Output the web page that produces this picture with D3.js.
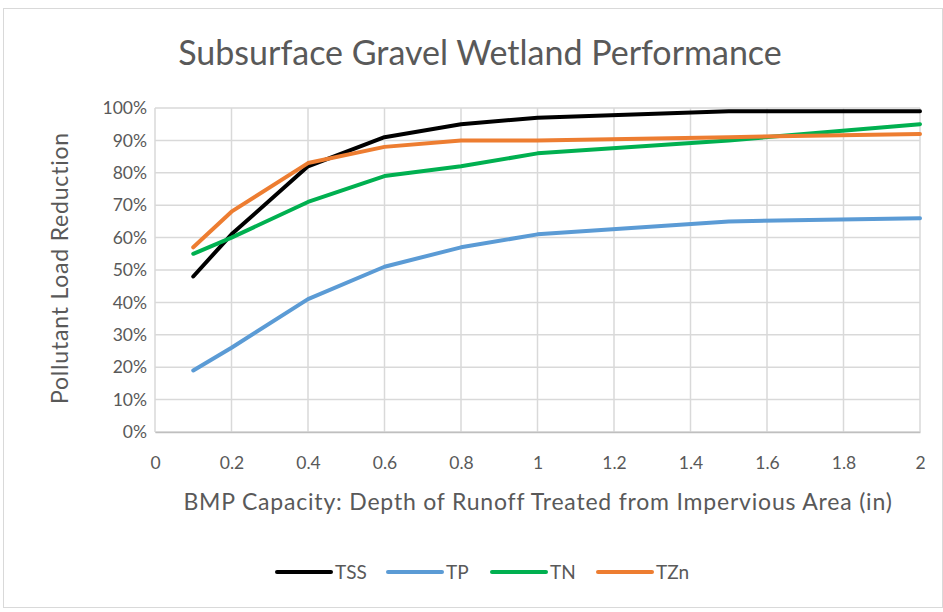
<!DOCTYPE html>
<html>
<head>
<meta charset="utf-8">
<script src="https://cdn.jsdelivr.net/npm/d3@7"></script>
<style>
  html, body { margin: 0; padding: 0; background: #fff; }
  svg { display: block; }
  text { font-family: Lato, "Open Sans", sans-serif; fill: #595959; }
</style>
</head>
<body>
<svg id="chart" width="943" height="612"></svg>
<script>
// Depth of runoff treated (in)
const depths = [0.1, 0.2, 0.4, 0.6, 0.8, 1.0, 1.5, 2.0];
// Pollutant load reduction (%) per pollutant
const tss = [48, 61, 82, 91, 95, 97, 99, 99];
const tp  = [19, 26, 41, 51, 57, 61, 65, 66];
const tn  = [55, 60, 71, 79, 82, 86, 90, 95];
const tzn = [57, 68, 83, 88, 90, 90, 91, 92];
const seriesNames = ["TSS", "TP", "TN", "TZn"];
const seriesColors = ["#000000", "#5B9BD5", "#00B050", "#ED7D31"];
const xTicks = [0, 0.2, 0.4, 0.6, 0.8, 1, 1.2, 1.4, 1.6, 1.8, 2];
const yTicks = [0, 10, 20, 30, 40, 50, 60, 70, 80, 90, 100];

const series = [tss, tp, tn, tzn].map((vals, i) => ({
  name: seriesNames[i], color: seriesColors[i],
  points: vals.map((v, j) => ({ x: depths[j], y: v }))
}));

const svg = d3.select("#chart");
const W = 943;
const plot = { left: 155, right: 920, top: 108, bottom: 432 };
const FONT = "Lato, 'Open Sans', sans-serif";

// chart frame
svg.append("rect")
  .attr("x", 3.5).attr("y", 8.5).attr("width", W - 4).attr("height", 599)
  .attr("fill", "#fff").attr("stroke", "#d9d9d9").attr("stroke-width", 1);

const x = d3.scaleLinear().domain([0, 2]).range([plot.left, plot.right]);
const y = d3.scaleLinear().domain([0, 100]).range([plot.bottom, plot.top]);

// gridlines
const grid = svg.append("g");
grid.selectAll("line.h").data(yTicks).join("line")
  .attr("x1", plot.left).attr("x2", plot.right)
  .attr("y1", d => y(d)).attr("y2", d => y(d))
  .attr("stroke", "#d9d9d9").attr("stroke-width", 1.5);
grid.selectAll("line.v").data(xTicks).join("line")
  .attr("y1", plot.top).attr("y2", plot.bottom)
  .attr("x1", d => x(d)).attr("x2", d => x(d))
  .attr("stroke", "#d9d9d9").attr("stroke-width", 1.5);

// axes
const xAxis = d3.axisBottom(x).tickValues(xTicks).tickSize(0).tickPadding(25)
  .tickFormat(d => String(+d.toFixed(1)));
svg.append("g").attr("transform", `translate(0,${plot.bottom})`).call(xAxis)
  .call(g => g.select(".domain").attr("stroke", "#bfbfbf").attr("stroke-width", 1.5))
  .call(g => g.selectAll("text").attr("font-size", 17.5).attr("fill", "#595959")
    .style("font-family", FONT));

const yAxis = d3.axisLeft(y).tickValues(yTicks).tickSize(0).tickPadding(8)
  .tickFormat(d => d + "%");
svg.append("g").attr("transform", `translate(${plot.left},0)`).call(yAxis)
  .call(g => g.select(".domain").remove())
  .call(g => g.selectAll("text").attr("font-size", 17.5).attr("fill", "#595959")
    .style("font-family", FONT));

// lines
const line = d3.line().x(d => x(d.x)).y(d => y(d.y));
svg.append("g").selectAll("path").data(series).join("path")
  .attr("d", d => line(d.points))
  .attr("fill", "none")
  .attr("stroke", d => d.color)
  .attr("stroke-width", 4)
  .attr("stroke-linejoin", "round")
  .attr("stroke-linecap", "round");

// title
svg.append("text").attr("x", 480).attr("y", 65).attr("text-anchor", "middle")
  .attr("font-size", 34).text("Subsurface Gravel Wetland Performance");

// axis titles
svg.append("text").attr("x", 538).attr("y", 510).attr("text-anchor", "middle")
  .attr("font-size", 23).style("letter-spacing", "0.8px")
  .text("BMP Capacity: Depth of Runoff Treated from Impervious Area (in)");
svg.append("text")
  .attr("transform", "translate(68,268) rotate(-90)")
  .attr("text-anchor", "middle").attr("font-size", 23).style("letter-spacing", "0.8px")
  .text("Pollutant Load Reduction");

// legend
const legendX = [277, 388, 492, 598];
const lg = svg.append("g").selectAll("g").data(series).join("g")
  .attr("transform", (d, i) => `translate(${legendX[i]},572)`);
lg.append("line").attr("x1", 0).attr("x2", 54).attr("y1", 0).attr("y2", 0)
  .attr("stroke", d => d.color).attr("stroke-width", 4).attr("stroke-linecap", "round");
lg.append("text").attr("x", 58).attr("y", 7).attr("font-size", 19).text(d => d.name);
</script>
</body>
</html>
